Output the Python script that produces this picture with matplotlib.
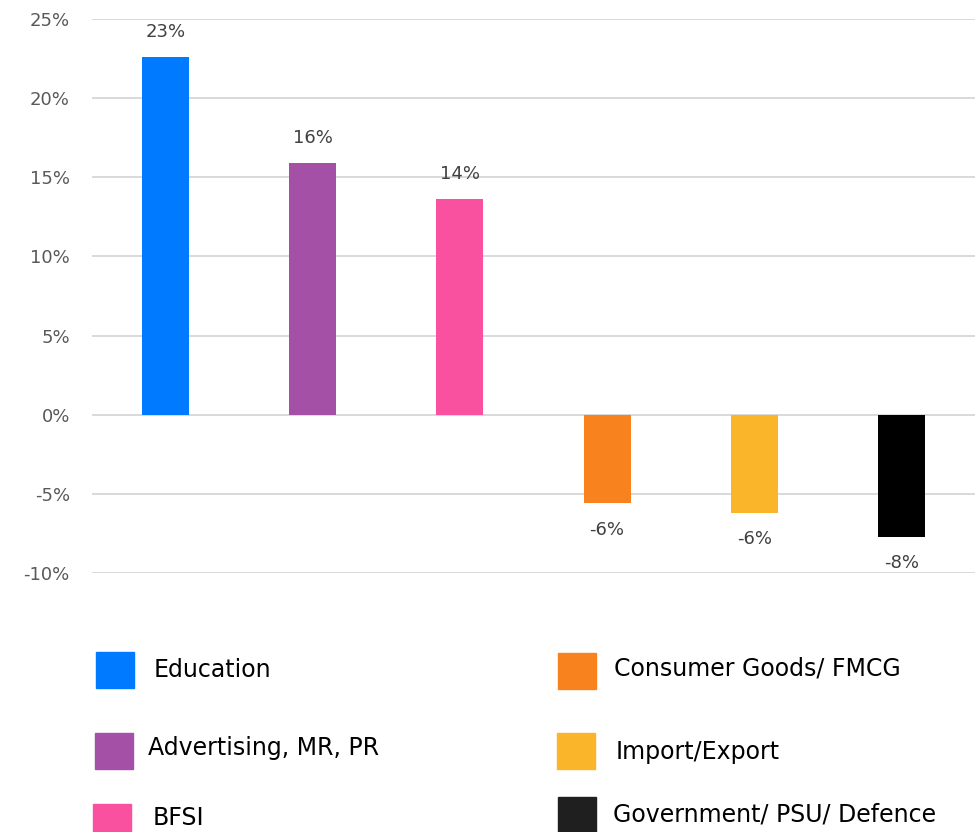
import numpy as np
import matplotlib.pyplot as plt
from matplotlib.patches import Rectangle
from matplotlib.ticker import PercentFormatter

plt.rcParams['axes.unicode_minus'] = False

# data
categories = ['Education', 'Advertising, MR, PR', 'BFSI',
              'Consumer Goods/ FMCG', 'Import/Export', 'Government/ PSU/ Defence']
values = [22.6, 15.9, 13.6, -5.6, -6.2, -7.7]
labels = ['23%', '16%', '14%', '-6%', '-6%', '-8%']
colors = ['#007AFF', '#A450A6', '#F9509F', '#F7821E', '#FBB52A', '#000000']
legend_colors = ['#007AFF', '#A450A6', '#F9509F', '#F7821E', '#FBB52A', '#1F1F1F']

W, H = 979, 832
fig = plt.figure(figsize=(W / 100, H / 100), dpi=100)
ax = fig.add_axes([92 / W, 1 - 573 / H, 883 / W, 554 / H])

x = np.arange(len(categories))
ax.bar(x, values, width=0.32, color=colors, zorder=3)

for xi, v, lab in zip(x, values, labels):
    if v >= 0:
        ax.annotate(lab, (xi, v), xytext=(0, 18), textcoords='offset points',
                    ha='center', va='center', fontsize=13, color='#404040')
    else:
        ax.annotate(lab, (xi, v), xytext=(0, -19), textcoords='offset points',
                    ha='center', va='center', fontsize=13, color='#404040')

ax.set_xlim(-0.5, 5.5)
ax.set_ylim(-10, 25)
ax.set_yticks(np.arange(-10, 26, 5))
ax.yaxis.set_major_formatter(PercentFormatter(decimals=0))
ax.set_xticks([])
ax.tick_params(axis='y', length=0, pad=16, labelsize=13, labelcolor='#595959')
ax.grid(axis='y', color='#D9D9D9', linewidth=1.4, zorder=0)
for s in ax.spines.values():
    s.set_visible(False)

# legend drawn by hand (two columns, uneven spacing like the original)
patch_xy = [(96, 652), (95, 733), (93, 804), (558, 653), (557, 733), (558, 797)]
text_xy = [(154, 670), (148, 748), (153, 818), (614, 669), (616, 752), (613, 814)]
for i in range(len(categories)):
    px, py = patch_xy[i]
    fig.patches.append(Rectangle((px / W, 1 - (py + 36) / H), 38 / W, 36 / H,
                                 transform=fig.transFigure, color=legend_colors[i]))
    tx, ty = text_xy[i]
    fig.text(tx / W, 1 - ty / H, categories[i], ha='left', va='center',
             fontsize=17, color='#000000')

plt.savefig('out.png', dpi=100)
